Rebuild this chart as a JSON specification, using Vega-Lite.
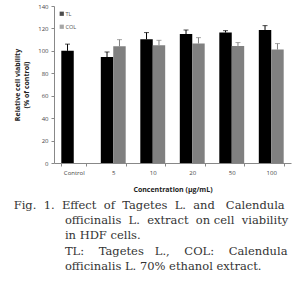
{
  "$schema": "https://vega.github.io/schema/vega-lite/v6.json",
  "width": 237,
  "height": 157,
  "autosize": "none",
  "padding": {"left": 54, "top": 6, "right": 5, "bottom": 131},
  "background": "white",
  "config": {
    "view": {"stroke": null},
    "axis": {
      "labelFont": "Open Sans",
      "labelFontSize": 6,
      "labelColor": "#444444",
      "labelOverlap": false,
      "titleFont": "Open Sans",
      "titleFontSize": 7,
      "titleFontWeight": "bold",
      "titleColor": "#222222",
      "domainColor": "#888888",
      "tickColor": "#888888",
      "tickSize": 3,
      "grid": false
    }
  },
  "title": {
    "text": [
      "Fig.\u00a0\u00a01.\u00a0\u00a0Effect\u00a0\u00a0of\u00a0\u00a0Tagetes\u00a0\u00a0L.\u00a0\u00a0and\u00a0\u00a0\u00a0Calendula",
      "\u200b\u00a0\u00a0\u00a0\u00a0\u00a0\u00a0\u00a0\u00a0\u00a0\u00a0\u00a0\u00a0\u00a0\u00a0officinalis\u00a0\u00a0L.\u00a0\u00a0extract\u00a0\u00a0on\u00a0cell\u00a0\u00a0viability",
      "\u200b\u00a0\u00a0\u00a0\u00a0\u00a0\u00a0\u00a0\u00a0\u00a0\u00a0\u00a0\u00a0\u00a0\u00a0in HDF cells.",
      "\u200b\u00a0\u00a0\u00a0\u00a0\u00a0\u00a0\u00a0\u00a0\u00a0\u00a0\u00a0\u00a0\u00a0\u00a0TL:\u00a0\u00a0\u00a0\u00a0Tagetes\u00a0\u00a0\u00a0L.,\u00a0\u00a0\u00a0\u00a0COL:\u00a0\u00a0\u00a0\u00a0Calendula",
      "\u200b\u00a0\u00a0\u00a0\u00a0\u00a0\u00a0\u00a0\u00a0\u00a0\u00a0\u00a0\u00a0\u00a0\u00a0officinalis L. 70% ethanol extract."
    ],
    "orient": "bottom",
    "anchor": "start",
    "frame": "bounds",
    "font": "DejaVu Serif",
    "fontSize": 11.5,
    "fontWeight": "normal",
    "color": "#333333",
    "lineHeight": 15.2,
    "offset": 8
  },
  "data": {
    "values": [
      {"conc": "Control", "group": "TL", "value": 100, "upper": 106},
      {"conc": "5", "group": "TL", "value": 94.5, "upper": 99},
      {"conc": "5", "group": "COL", "value": 104, "upper": 110},
      {"conc": "10", "group": "TL", "value": 110.3, "upper": 116.3},
      {"conc": "10", "group": "COL", "value": 105, "upper": 109.4},
      {"conc": "20", "group": "TL", "value": 115, "upper": 118.6},
      {"conc": "20", "group": "COL", "value": 106.5, "upper": 111.8},
      {"conc": "50", "group": "TL", "value": 116.3, "upper": 118},
      {"conc": "50", "group": "COL", "value": 104.4, "upper": 107.4},
      {"conc": "100", "group": "TL", "value": 118.6, "upper": 122.5},
      {"conc": "100", "group": "COL", "value": 101.1, "upper": 106.5}
    ]
  },
  "encoding": {
    "x": {
      "field": "conc",
      "type": "nominal",
      "sort": ["Control", "5", "10", "20", "50", "100"],
      "scale": {"paddingInner": 0.37, "paddingOuter": 0.185},
      "axis": {"title": "Concentration (μg/mL)", "labelAngle": 0, "tickBand": "extent", "labelPadding": 3, "titlePadding": 10}
    },
    "xOffset": {"field": "group", "type": "nominal", "sort": ["TL", "COL"], "scale": {"domain": ["TL", "COL"]}},
    "y": {
      "field": "value",
      "type": "quantitative",
      "scale": {"domain": [0, 140]},
      "axis": {"title": ["Relative cell viability", "(% of control)"], "values": [0, 20, 40, 60, 80, 100, 120, 140], "labelPadding": 3, "titlePadding": 8}
    },
    "color": {
      "field": "group",
      "type": "nominal",
      "scale": {"domain": ["TL", "COL"], "range": ["#000000", "#808080"]},
      "legend": {
        "title": null,
        "orient": "top-left",
        "offset": 5,
        "symbolType": "square",
        "symbolSize": 18,
        "symbolStrokeWidth": 0,
        "labelFont": "Open Sans",
        "labelFontSize": 5.5,
        "labelColor": "#555555",
        "rowPadding": 6,
        "labelOffset": 1
      }
    }
  },
  "layer": [
    {
      "mark": {"type": "bar"}
    },
    {
      "mark": {"type": "rule", "strokeWidth": 1},
      "encoding": {
        "y2": {"field": "upper"}
      }
    },
    {
      "mark": {"type": "tick", "thickness": 1, "size": 5},
      "encoding": {
        "y": {
          "field": "upper",
          "type": "quantitative",
          "axis": {"title": ["Relative cell viability", "(% of control)"], "values": [0, 20, 40, 60, 80, 100, 120, 140], "labelPadding": 3, "titlePadding": 8}
        }
      }
    }
  ]
}
